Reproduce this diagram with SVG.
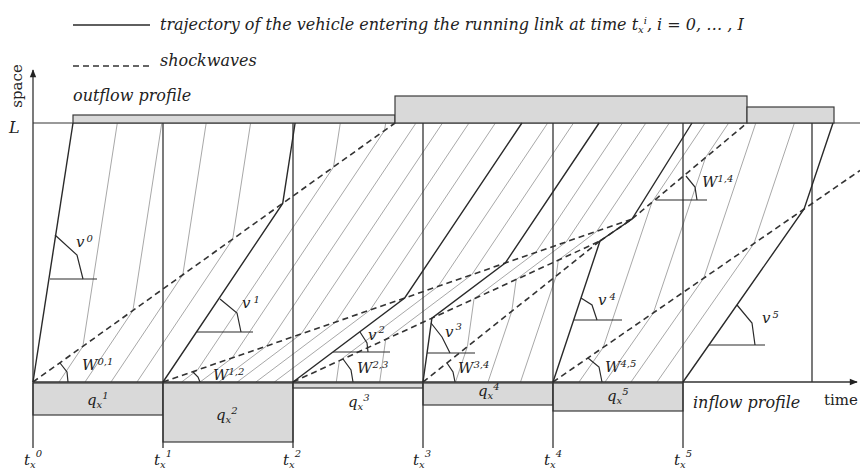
<svg xmlns="http://www.w3.org/2000/svg" width="860" height="470" viewBox="0 0 860 470">
<defs>
<marker id="arr" viewBox="0 0 10 10" refX="9" refY="5" markerWidth="10" markerHeight="8" orient="auto" markerUnits="userSpaceOnUse">
<path d="M0,1 L10,5 L0,9 z" fill="#222"/>
</marker>
</defs>
<style>
.bar{fill:#d9d9d9;stroke:#3a3a3a;stroke-width:1.2}
.dk{fill:none;stroke:#2a2a2a;stroke-width:1.4}
.gr{fill:none;stroke:#a8a8a8;stroke-width:1}
.sh{fill:none;stroke:#333;stroke-width:1.6;stroke-dasharray:6 4}
.ax{fill:none;stroke:#333;stroke-width:1.3}
.ang{fill:none;stroke:#2a2a2a;stroke-width:1.2}
.t{font-family:"DejaVu Serif","Liberation Serif",serif;font-style:italic;fill:#222}
.u{font-family:"DejaVu Serif","Liberation Serif",serif;fill:#222}
.s{font-size:10px}
</style>
<rect width="860" height="470" fill="#fff"/>

<g id="legend">
<line x1="73" y1="25" x2="150" y2="25" class="dk"/>
<text x="160" y="30" class="t" font-size="16">trajectory of the vehicle entering the running link at time t<tspan class="s" dy="3">x</tspan><tspan class="s" dy="-9">i</tspan><tspan dy="6">, i = 0, … , I</tspan></text>
<line x1="73" y1="66" x2="150" y2="66" class="sh"/>
<text x="160" y="66" class="t" font-size="16">shockwaves</text>
</g>

<g id="trajectories-gray">
<polyline class="gr" points="59,382 82.9,346.3 117.3,123"/>
<polyline class="gr" points="85,382 132.9,310.6 161.8,123"/>
<polyline class="gr" points="111,382 182.8,274.8 206.2,123"/>
<polyline class="gr" points="137,382 232.7,239.1 250.6,123"/>
<polyline class="gr" points="181.6,382 197.5,370 333.5,167 340.3,123"/>
<polyline class="gr" points="200.1,382 232.1,358 384.5,130.5 385.7,123"/>
<polyline class="gr" points="218.7,382 266.6,346 416,123"/>
<polyline class="gr" points="237.3,382 301.1,334 442.5,123"/>
<polyline class="gr" points="255.9,382 335.7,322 469,123"/>
<polyline class="gr" points="274.4,382 370.2,310 495.4,123"/>
<polyline class="gr" points="336.3,382 339.3,360.8 438.2,286.3 547.7,123"/>
<polyline class="gr" points="379.7,382 385.7,339.5 471.8,274.7 573.5,123"/>
<polyline class="gr" points="455.5,382 467.4,346.6 474,298.9 535.7,252.5 622.5,123"/>
<polyline class="gr" points="488,382 511.8,311.2 516.2,279.5 566.2,241.9 645.9,123"/>
<polyline class="gr" points="520.5,382 556.2,275.9 558.3,260.2 596.8,231.3 669.3,123"/>
<polyline class="gr" points="579,382 603.2,347.4 651.9,202.4 705.1,123"/>
<polyline class="gr" points="605,382 653.4,312.8 705.5,157.6 728.7,123"/>
<polyline class="gr" points="631,382 703.7,278.2 755.8,123"/>
<polyline class="gr" points="657,382 753.9,243.6 794.4,123"/>
</g>

<g id="outflow-profile">
<line x1="33" y1="123" x2="860" y2="123" stroke="#777" stroke-width="1.4"/>
<rect class="bar" x="73" y="115" width="322" height="8"/>
<rect class="bar" x="395" y="96" width="352" height="27"/>
<rect class="bar" x="747" y="107" width="87" height="16"/>
<text x="73" y="101" class="t" font-size="16">outflow profile</text>
</g>

<g id="inflow-profile">
<rect class="bar" x="33" y="383" width="130" height="32"/>
<rect class="bar" x="163" y="383" width="130" height="59"/>
<rect class="bar" x="293" y="383" width="130" height="5"/>
<rect class="bar" x="423" y="383" width="130" height="22"/>
<rect class="bar" x="553" y="383" width="130" height="28"/>
<text x="693" y="408" class="t" font-size="16">inflow profile</text>
<text x="87" y="405" class="t" font-size="15">q<tspan class="s" dy="3">x</tspan><tspan class="s" dy="-9">1</tspan></text>
<text x="216" y="420" class="t" font-size="15">q<tspan class="s" dy="3">x</tspan><tspan class="s" dy="-9">2</tspan></text>
<text x="348" y="407" class="t" font-size="15">q<tspan class="s" dy="3">x</tspan><tspan class="s" dy="-9">3</tspan></text>
<text x="478" y="396" class="t" font-size="15">q<tspan class="s" dy="3">x</tspan><tspan class="s" dy="-9">4</tspan></text>
<text x="607" y="401" class="t" font-size="15">q<tspan class="s" dy="3">x</tspan><tspan class="s" dy="-9">5</tspan></text>
</g>

<g id="axes">
<line x1="33" y1="448" x2="33" y2="70" class="ax" marker-end="url(#arr)"/>
<line x1="33" y1="382" x2="857" y2="382" class="ax" marker-end="url(#arr)"/>
<line x1="163" y1="123" x2="163" y2="448" class="ax"/>
<line x1="293" y1="123" x2="293" y2="448" class="ax"/>
<line x1="423" y1="123" x2="423" y2="448" class="ax"/>
<line x1="553" y1="123" x2="553" y2="448" class="ax"/>
<line x1="683" y1="123" x2="683" y2="448" class="ax"/>
<line x1="812" y1="123" x2="812" y2="382" class="ax"/>
<text transform="translate(22,86) rotate(-90)" text-anchor="middle" class="u" font-size="15">space</text>
<text x="9" y="133" class="t" font-size="16">L</text>
<text x="824" y="405" class="u" font-size="15">time</text>
<text x="24" y="465" class="t" font-size="15">t<tspan class="s" dy="3">x</tspan><tspan class="s" dy="-11">0</tspan></text>
<text x="154" y="465" class="t" font-size="15">t<tspan class="s" dy="3">x</tspan><tspan class="s" dy="-11">1</tspan></text>
<text x="283" y="465" class="t" font-size="15">t<tspan class="s" dy="3">x</tspan><tspan class="s" dy="-11">2</tspan></text>
<text x="413" y="465" class="t" font-size="15">t<tspan class="s" dy="3">x</tspan><tspan class="s" dy="-11">3</tspan></text>
<text x="544" y="465" class="t" font-size="15">t<tspan class="s" dy="3">x</tspan><tspan class="s" dy="-11">4</tspan></text>
<text x="674" y="465" class="t" font-size="15">t<tspan class="s" dy="3">x</tspan><tspan class="s" dy="-11">5</tspan></text>
</g>

<g id="shockwaves">
<line class="sh" x1="33" y1="382" x2="395" y2="123"/>
<line class="sh" x1="163" y1="382" x2="632" y2="219"/>
<line class="sh" x1="293" y1="382" x2="600" y2="241"/>
<line class="sh" x1="423" y1="382" x2="600" y2="241"/>
<line class="sh" x1="600" y1="241" x2="632" y2="219"/>
<line class="sh" x1="632" y1="219" x2="747" y2="123"/>
<line class="sh" x1="553" y1="382" x2="860" y2="170.5"/>
</g>

<g id="trajectories">
<polyline class="dk" points="33,382 73,123"/>
<polyline class="dk" points="163,382 282.7,203.4 295.1,123"/>
<polyline class="dk" points="293,382 404.7,298 521.9,123"/>
<polyline class="dk" points="423,382 431.9,318.2 505.2,263.1 599.1,123"/>
<polyline class="dk" points="553,382 600,241 632,219 692,123"/>
<polyline class="dk" points="683,382 804.1,209 833,123"/>
</g>

<g id="angles">
<line class="ang" x1="50" y1="279" x2="97" y2="279"/>
<polyline class="ang" points="55,235 77,255 83,279"/>
<text x="76" y="247" class="t" font-size="15">v<tspan class="s" dx="2" dy="-5">0</tspan></text>

<line class="ang" x1="197" y1="332" x2="253" y2="332"/>
<polyline class="ang" points="220,299 237,313 241,332"/>
<text x="242" y="308" class="t" font-size="15">v<tspan class="s" dx="3" dy="-5">1</tspan></text>

<line class="ang" x1="333" y1="352" x2="390" y2="352"/>
<polyline class="ang" points="360,332 367,343 368,352"/>
<text x="368" y="340" class="t" font-size="15">v<tspan class="s" dx="2" dy="-7">2</tspan></text>

<polyline class="ang" points="343,359 351,370 353,382"/>
<text x="357" y="373" class="t" font-size="15">W<tspan class="s" dy="-5">2,3</tspan></text>

<line class="ang" x1="427" y1="353" x2="475" y2="353"/>
<polyline class="ang" points="431,323 442,337 450,353"/>
<text x="445" y="337" class="t" font-size="15">v<tspan class="s" dx="2" dy="-7">3</tspan></text>

<polyline class="ang" points="447,363 453,372 455,382"/>
<text x="458" y="373" class="t" font-size="15">W<tspan class="s" dy="-5">3,4</tspan></text>

<line class="ang" x1="574" y1="320" x2="622" y2="320"/>
<polyline class="ang" points="581,298 592,305 597,320"/>
<text x="598" y="305" class="t" font-size="15">v<tspan class="s" dx="3" dy="-5">4</tspan></text>

<polyline class="ang" points="588,358 599,367 602,382"/>
<text x="605" y="372" class="t" font-size="15">W<tspan class="s" dy="-5">4,5</tspan></text>

<line class="ang" x1="656" y1="200" x2="707" y2="200"/>
<polyline class="ang" points="686,176 695,187 697,200"/>
<text x="702" y="187" class="t" font-size="15">W<tspan class="s" dy="-5">1,4</tspan></text>

<line class="ang" x1="709" y1="345" x2="765" y2="345"/>
<polyline class="ang" points="737,305 752,323 755,345"/>
<text x="762" y="323" class="t" font-size="15">v<tspan class="s" dx="2" dy="-5">5</tspan></text>

<polyline class="ang" points="60,363 67,372 68,382"/>
<text x="82" y="370" class="t" font-size="15">W<tspan class="s" dy="-5">0,1</tspan></text>

<polyline class="ang" points="193,372 198,377 200,382"/>
<text x="213" y="380" class="t" font-size="15">W<tspan class="s" dy="-5">1,2</tspan></text>
</g>
</svg>
